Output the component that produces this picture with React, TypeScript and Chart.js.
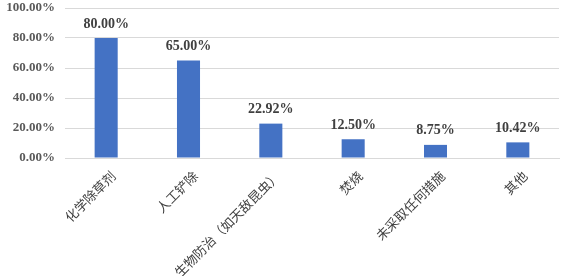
import React, { useEffect, useRef } from "react";
import { Chart, registerables } from "chart.js";

Chart.register(...registerables);

const categories = ["化学除草剂", "人工铲除", "生物防治（如天敌昆虫）", "焚烧", "未采取任何措施", "其他"];
const values = [80.0, 65.0, 22.92, 12.5, 8.75, 10.42];
const yTicks = [0, 20, 40, 60, 80, 100];

const dataLabelPlugin = {
  id: "dataLabels",
  afterDatasetsDraw(chart: any) {
    const ctx = chart.ctx;
    const meta = chart.getDatasetMeta(0);
    ctx.save();
    ctx.font = "bold 14px 'Liberation Serif', serif";
    ctx.fillStyle = "#404040";
    ctx.textAlign = "center";
    ctx.textBaseline = "bottom";
    meta.data.forEach((bar: any, i: number) => {
      ctx.fillText(values[i].toFixed(2) + "%", bar.x, bar.y - 7);
    });
    ctx.restore();
  },
};

export default function App() {
  const ref = useRef<HTMLCanvasElement | null>(null);
  useEffect(() => {
    if (!ref.current) return;
    const chart = new Chart(ref.current, {
      type: "bar",
      data: {
        labels: categories,
        datasets: [
          {
            data: values,
            backgroundColor: "#4472C4",
            categoryPercentage: 1,
            barPercentage: 0.28,
          },
        ],
      },
      options: {
        animation: false,
        responsive: true,
        maintainAspectRatio: false,
        layout: { padding: { top: 8, right: 8, left: 0, bottom: 0 } },
        plugins: { legend: { display: false }, tooltip: { enabled: false } },
        scales: {
          x: {
            grid: { display: false },
            border: { display: true, color: "#d9d9d9", width: 1 },
            ticks: {
              maxRotation: 45,
              minRotation: 45,
              autoSkip: false,
              padding: 2,
              labelOffset: 7,
              color: "#404040",
              font: { size: 13, family: "'Noto Sans CJK SC', sans-serif" },
            },
            afterFit: (scale: any) => {
              scale.height = 118;
              scale.paddingLeft = 0;
              scale.paddingRight = 0;
            },
          },
          y: {
            min: yTicks[0],
            max: yTicks[yTicks.length - 1],
            grid: { color: "#d9d9d9", drawTicks: false },
            border: { display: false },
            ticks: {
              stepSize: 20,
              padding: 10,
              color: "#595959",
              font: { size: 13, weight: "bold", family: "'Liberation Serif', serif" },
              callback: (v: any) => Number(v).toFixed(2) + "%",
            },
            afterFit: (scale: any) => {
              scale.width = 65;
              scale.paddingTop = 0;
              scale.paddingBottom = 0;
            },
          },
        },
      },
      plugins: [dataLabelPlugin],
    });
    return () => chart.destroy();
  }, []);
  return (
    <div style={{ position: "absolute", left: 0, top: 0, width: 567, height: 276, background: "#fff" }}>
      <canvas ref={ref} />
    </div>
  );
}
